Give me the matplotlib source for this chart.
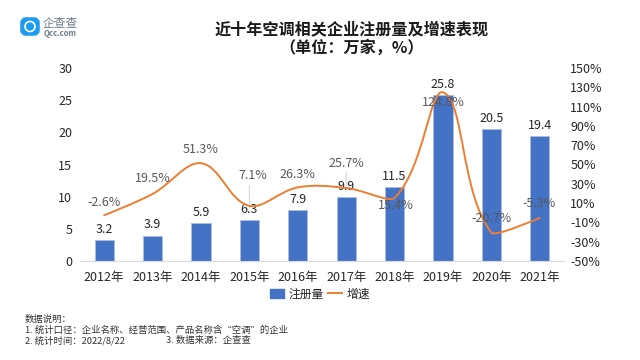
import matplotlib
matplotlib.use('Agg')
import matplotlib.pyplot as plt
from matplotlib.lines import Line2D
from matplotlib.patches import Circle, FancyBboxPatch, PathPatch
from matplotlib.path import Path
import numpy as np

plt.rcParams['font.family'] = ['Noto Sans CJK SC', 'DejaVu Sans']

years = ['2012年', '2013年', '2014年', '2015年', '2016年',
         '2017年', '2018年', '2019年', '2020年', '2021年']
registered = [3.2, 3.9, 5.9, 6.3, 7.9, 9.9, 11.5, 25.8, 20.5, 19.4]
growth = [-2.6, 19.5, 51.3, 7.1, 26.3, 25.7, 15.4, 124.8, -20.7, -5.3]

# label offsets in px from the point
growth_offsets = [(0, 13), (0, 15), (0, 14), (3, 30), (0, 13), (0, 24), (1, -8), (0, -10), (0, 14), (-1, 14)]
bar_color = '#4472c4'
line_color = '#ed7d31'
text_color = '#262626'
pct_color = '#595959'

# px per category and per percent point, the smoothing works in screen units
sx, sy = 48.4, 193 / 200


def smooth_path(x, y):
    # bezier smoothing, handles shrink on the side of the shorter chord
    px = np.array(x) * sx
    py = np.array(y) * sy
    n = len(px)
    after = [(0.0, 0.0)] * n
    before = [(0.0, 0.0)] * n
    for i in range(1, n - 1):
        d1 = np.hypot(px[i] - px[i - 1], py[i] - py[i - 1])
        d2 = np.hypot(px[i + 1] - px[i], py[i + 1] - py[i])
        tx = (px[i + 1] - px[i - 1]) * 0.36
        ty = (py[i + 1] - py[i - 1]) * 0.36
        r = d2 ** 2 / (d1 ** 2 + d2 ** 2)
        after[i] = (tx * r, ty * r)
        before[i] = (tx * (1 - r), ty * (1 - r))
    verts = [(x[0], y[0])]
    codes = [Path.MOVETO]
    for i in range(n - 1):
        c1 = ((px[i] + after[i][0]) / sx, (py[i] + after[i][1]) / sy)
        c2 = ((px[i + 1] - before[i + 1][0]) / sx, (py[i + 1] - before[i + 1][1]) / sy)
        verts += [c1, c2, (x[i + 1], y[i + 1])]
        codes += [Path.CURVE4] * 3
    return Path(verts, codes)


fig = plt.figure(figsize=(6.4, 3.6), dpi=100)
ax1 = fig.add_axes([80 / 640, 1 - 261 / 360, 484 / 640, 193 / 360])
xs = np.arange(len(years))

ax1.bar(xs, registered, width=0.4, color=bar_color, edgecolor='#a9bde3', linewidth=0.6, zorder=2)
ax1.set_xlim(-0.5, 9.5)
ax1.set_ylim(0, 30)
ax1.set_yticks(range(0, 31, 5))
ax1.set_xticks(xs)
ax1.set_xticklabels(years)
ax1.tick_params(axis='both', length=0, labelsize=9, labelcolor=text_color)
ax1.tick_params(axis='x', pad=7.5)
ax1.tick_params(axis='y', pad=5.5)
for side in ['top', 'left', 'right']:
    ax1.spines[side].set_visible(False)
ax1.spines['bottom'].set_color('#d9d9d9')
ax1.spines['bottom'].set_linewidth(0.8)

ax2 = ax1.twinx()
ax2.set_ylim(-50, 150)
ax2.set_yticks(range(-50, 151, 20))
ax2.set_yticklabels([f'{v}%' for v in range(-50, 151, 20)])
ax2.tick_params(axis='y', length=0, labelsize=9, labelcolor=text_color, pad=4.5)
for side in ['top', 'left', 'right', 'bottom']:
    ax2.spines[side].set_visible(False)

ax2.add_patch(PathPatch(smooth_path(xs, growth), facecolor='none', edgecolor=line_color,
                        linewidth=1.4, capstyle='round', zorder=3))

for x, v in zip(xs, registered):
    ax1.annotate(f'{v}', (x, v), xytext=(0, 4.5), textcoords='offset pixels', ha='center',
                 va='bottom', fontsize=9, color=text_color)

for x, v, off in zip(xs, growth, growth_offsets):
    ax2.annotate(f'{v}%', (x, v), xytext=off, textcoords='offset pixels', ha='center',
                 va='center', fontsize=9, color=pct_color, zorder=5)

# leader lines of the two moved labels
for i, top in [(3, 23), (5, 19)]:
    ax2.annotate('', (xs[i], growth[i]), xytext=(0, top), textcoords='offset pixels',
                 arrowprops=dict(arrowstyle='-', color='#d0d0d0', linewidth=0.7))

handles = [plt.Rectangle((0, 0), 1, 1, color=bar_color),
           Line2D([0], [0], color=line_color, linewidth=1.4)]
fig.legend(handles, ['注册量', '增速'], loc='center', bbox_to_anchor=(320 / 640, 1 - 294 / 360), ncol=2,
           frameon=False, fontsize=8.5, handlelength=1.2, handleheight=0.7, columnspacing=0.3,
           handletextpad=0.4, labelcolor=text_color)

fig.text(352 / 640, 1 - 29 / 360, '近十年空调相关企业注册量及增速表现', fontsize=11.6, fontweight='bold',
         ha='center', va='center', color='#1a1a1a')
fig.text(352 / 640, 1 - 48 / 360, '（单位：万家，%）', fontsize=11.6, fontweight='bold',
         ha='center', va='center', color='#1a1a1a')

# footnote
notes_color = '#333333'
fig.text(25 / 640, 1 - 319 / 360, '数据说明：', fontsize=6.75, va='center', color=notes_color)
fig.text(25 / 640, 1 - 330 / 360, '1. 统计口径：企业名称、经营范围、产品名称含“空调”的企业', fontsize=6.75, va='center', color=notes_color)
fig.text(25 / 640, 1 - 341 / 360, '2. 统计时间：2022/8/22', fontsize=6.75, va='center', color=notes_color)
fig.text(166 / 640, 1 - 341 / 360, '3. 数据来源：企查查', fontsize=6.75, va='center', color=notes_color)

# logo
logo = fig.add_axes([0, 0, 1, 1], facecolor='none')
logo.set_xlim(0, 640)
logo.set_ylim(360, 0)
logo.axis('off')
logo.add_patch(FancyBboxPatch((23, 20), 14, 13, boxstyle='round,pad=0,rounding_size=3',
                              mutation_aspect=1, facecolor='#1e9bf0', edgecolor='#1e9bf0', linewidth=4))
logo.add_patch(Circle((30, 26.5), 5, facecolor='none', edgecolor='white', linewidth=1.2))
logo.text(60, 23, '企查查', fontsize=8.5, color='#6f7f8c', ha='center', va='center')
logo.text(60, 33, 'Qcc.com', fontsize=5.6, color='#6f7f8c', ha='center', va='center', fontweight='bold')

fig.savefig('out.png', dpi=100)
